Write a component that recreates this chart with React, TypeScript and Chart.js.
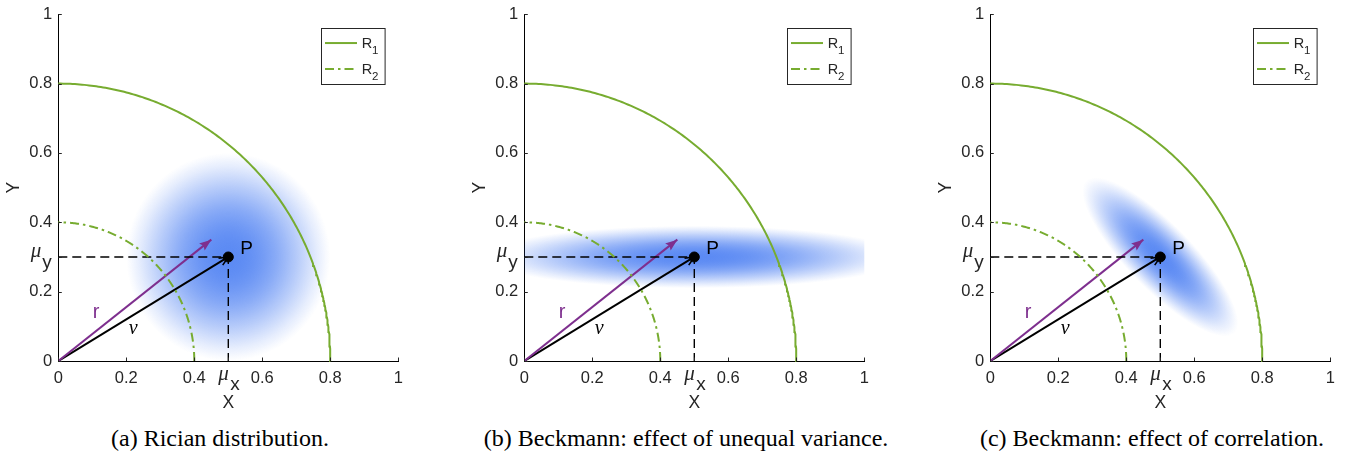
import React, { useEffect, useRef } from 'react';
import { Chart, registerables } from 'chart.js';

Chart.register(...registerables);

// ---------- data ----------
const captions = [
  '(a) Rician distribution.',
  '(b) Beckmann: effect of unequal variance.',
  '(c) Beckmann: effect of correlation.',
];
const xTickValues = [0, 0.2, 0.4, 0.5, 0.6, 0.8, 1];
const xTickLabels = ['0', '0.2', '0.4', '', '0.6', '0.8', '1'];
const yTickValues = [0, 0.2, 0.3, 0.4, 0.6, 0.8, 1];
const yTickLabels = ['0', '0.2', '', '0.4', '0.6', '0.8', '1'];
const circleRadii = [0.8, 0.4]; // R1, R2
const legendSubs = ['1', '2'];
const meanPoint = [0.5, 0.3]; // (mu_x, mu_y) = P
const rTip = [0.45, 0.35]; // tip of purple arrow r
const blobMajor = [0.3, 0.62, 0.31]; // extent of density along main axis
const blobMinor = [0.3, 0.09, 0.095]; // extent along minor axis
const blobAngleDeg = [0, 0, -45];

// ---------- styles ----------
const GREEN = 'rgb(119,172,48)';
const PURPLE = 'rgb(126,47,142)';
const AXIS = '#262626';
const SANS = '"Liberation Sans", Arial, Helvetica, sans-serif';
const SERIF = '"Liberation Serif", "Times New Roman", serif';
const PANEL_W = 466;
const CANVAS_H = 420;

const arcPoints = (r: number) => {
  const pts: { x: number; y: number }[] = [];
  for (let i = 0; i <= 180; i++) {
    const a = (i / 180) * (Math.PI / 2);
    pts.push({ x: r * Math.cos(a), y: r * Math.sin(a) });
  }
  return pts;
};

const labelFor = (vals: number[], labels: string[], v: number) => {
  const i = vals.findIndex((t) => Math.abs(t - v) < 1e-9);
  return i >= 0 ? labels[i] : '';
};

function makeDecor(idx: number) {
  return {
    id: 'decor' + idx,
    beforeDatasetsDraw(chart: any) {
      const { ctx, chartArea, scales } = chart;
      const x = scales.x, y = scales.y;
      const cx = x.getPixelForValue(meanPoint[0]);
      const cy = y.getPixelForValue(meanPoint[1]);
      const ux = x.getPixelForValue(1) - x.getPixelForValue(0);
      const uy = y.getPixelForValue(0) - y.getPixelForValue(1);
      ctx.save();
      ctx.beginPath();
      ctx.rect(chartArea.left, chartArea.top, chartArea.right - chartArea.left, chartArea.bottom - chartArea.top);
      ctx.clip();
      ctx.translate(cx, cy);
      ctx.scale(ux, -uy);
      ctx.rotate((blobAngleDeg[idx] * Math.PI) / 180);
      ctx.scale(blobMajor[idx], blobMinor[idx]);
      const g = ctx.createRadialGradient(0, 0, 0, 0, 0, 1);
      for (let i = 0; i <= 24; i++) {
        const t = i / 24;
        const a = 0.78 * Math.exp(-1.3 * t * t) * (1 - Math.pow(t, 4));
        g.addColorStop(t, `rgba(45,105,240,${Math.max(0, a).toFixed(3)})`);
      }
      ctx.fillStyle = g;
      ctx.beginPath();
      ctx.arc(0, 0, 1, 0, Math.PI * 2);
      ctx.fill();
      ctx.restore();
    },
    afterDatasetsDraw(chart: any) {
      const { ctx, chartArea, scales } = chart;
      const x = scales.x, y = scales.y;
      const L = chartArea.left, T = chartArea.top, B = chartArea.bottom;
      ctx.save();
      // inner tick marks
      ctx.strokeStyle = AXIS;
      ctx.lineWidth = 1;
      ctx.beginPath();
      yTickValues.forEach((v) => {
        const py = Math.round(y.getPixelForValue(v)) + 0.5;
        ctx.moveTo(L, py);
        ctx.lineTo(L + 3.5, py);
      });
      xTickValues.forEach((v) => {
        const px = Math.round(x.getPixelForValue(v)) + 0.5;
        ctx.moveTo(px, B);
        ctx.lineTo(px, B - 3.5);
      });
      ctx.stroke();

      // arrowheads
      const head = (di: number, filled: boolean, color: string) => {
        const meta = chart.getDatasetMeta(di);
        const p0 = meta.data[0], p1 = meta.data[meta.data.length - 1];
        const ang = Math.atan2(p1.y - p0.y, p1.x - p0.x);
        ctx.save();
        ctx.translate(p1.x, p1.y);
        ctx.rotate(ang);
        if (filled) {
          ctx.fillStyle = color;
          ctx.beginPath();
          ctx.moveTo(0, 0);
          ctx.lineTo(-12, -4.5);
          ctx.lineTo(-10, 0);
          ctx.lineTo(-12, 4.5);
          ctx.closePath();
          ctx.fill();
        } else {
          ctx.strokeStyle = color;
          ctx.lineWidth = 1.6;
          ctx.beginPath();
          ctx.moveTo(-9, -4);
          ctx.lineTo(0, 0);
          ctx.lineTo(-9, 4);
          ctx.stroke();
        }
        ctx.restore();
      };
      head(3, true, PURPLE);
      head(4, false, '#000');

      // annotations
      ctx.fillStyle = '#000';
      ctx.textAlign = 'left';
      ctx.textBaseline = 'alphabetic';
      ctx.font = `19px ${SANS}`;
      ctx.fillText('P', x.getPixelForValue(meanPoint[0]) + 12, y.getPixelForValue(meanPoint[1]) - 2.5);
      ctx.fillStyle = PURPLE;
      ctx.textAlign = 'center';
      ctx.font = `20px ${SANS}`;
      ctx.fillText('r', x.getPixelForValue(0.111), y.getPixelForValue(0.125));
      ctx.fillStyle = '#000';
      ctx.font = `italic 20px ${SERIF}`;
      ctx.fillText('ν', x.getPixelForValue(0.22), y.getPixelForValue(0.079));

      // mu labels
      ctx.fillStyle = AXIS;
      ctx.textAlign = 'left';
      const py3 = y.getPixelForValue(meanPoint[1]);
      ctx.font = `italic 21px ${SERIF}`;
      ctx.fillText('μ', L - 27.5, py3);
      ctx.font = `19px ${SANS}`;
      ctx.fillText('y', L - 16, py3 + 11);
      const px5 = x.getPixelForValue(meanPoint[0]);
      ctx.font = `italic 21px ${SERIF}`;
      ctx.fillText('μ', px5 - 10, B + 19);
      ctx.font = `19px ${SANS}`;
      ctx.fillText('x', px5 + 2, B + 29);

      // legend
      const bx = L + 262.4, by = T + 13.8;
      ctx.fillStyle = '#fff';
      ctx.fillRect(bx, by, 63.6, 56);
      ctx.strokeStyle = AXIS;
      ctx.lineWidth = 1;
      ctx.strokeRect(Math.round(bx) + 0.5, Math.round(by) + 0.5, 63.6, 56);
      [0, 1].forEach((k) => {
        const ds = chart.data.datasets[k];
        const ly = T + 28.8 + k * 26;
        ctx.strokeStyle = ds.borderColor;
        ctx.lineWidth = ds.borderWidth;
        ctx.setLineDash(ds.borderDash || []);
        ctx.beginPath();
        ctx.moveTo(L + 266.7, ly);
        ctx.lineTo(L + 298.7, ly);
        ctx.stroke();
        ctx.setLineDash([]);
        ctx.fillStyle = AXIS;
        ctx.font = `14.5px ${SANS}`;
        ctx.fillText('R', L + 303.4, ly + 4.8);
        ctx.font = `11.5px ${SANS}`;
        ctx.fillText(legendSubs[k], L + 313.8, ly + 10.6);
      });
      ctx.restore();
    },
  };
}

function Panel({ idx }: { idx: number }) {
  const ref = useRef<HTMLCanvasElement | null>(null);
  useEffect(() => {
    if (!ref.current) return;
    const tickFont = { family: SANS, size: 16.5, lineHeight: 1 };
    const titleFont = { family: SANS, size: 17.5, lineHeight: 1.2 };
    const chart = new Chart(ref.current, {
      type: 'scatter',
      data: {
        datasets: [
          { label: 'R1', data: arcPoints(circleRadii[0]), borderColor: GREEN, borderWidth: 2, pointRadius: 0, showLine: true, clip: false },
          { label: 'R2', data: arcPoints(circleRadii[1]), borderColor: GREEN, borderWidth: 2, borderDash: [9, 4, 2.5, 4], pointRadius: 0, showLine: true, clip: false },
          { label: 'guide', data: [{ x: 0, y: meanPoint[1] }, { x: meanPoint[0], y: meanPoint[1] }, { x: meanPoint[0], y: 0 }], borderColor: '#000', borderWidth: 1.4, borderDash: [9, 5], pointRadius: 0, showLine: true },
          { label: 'r', data: [{ x: 0, y: 0 }, { x: rTip[0], y: rTip[1] }], borderColor: PURPLE, borderWidth: 2, pointRadius: 0, showLine: true },
          { label: 'nu', data: [{ x: 0, y: 0 }, { x: meanPoint[0], y: meanPoint[1] }], borderColor: '#000', borderWidth: 2, pointRadius: 0, showLine: true },
          { label: 'P', data: [{ x: meanPoint[0], y: meanPoint[1] }], backgroundColor: '#000', borderColor: '#000', pointRadius: 5, showLine: false },
        ] as any,
      },
      options: {
        animation: false,
        responsive: false,
        maintainAspectRatio: false,
        events: [],
        layout: { padding: { left: 0, top: 8.5, right: PANEL_W - 398.3, bottom: 0 } },
        plugins: { legend: { display: false }, tooltip: { enabled: false } },
        scales: {
          x: {
            type: 'linear',
            min: 0,
            max: 1,
            grid: { display: false, drawTicks: false },
            border: { display: true, color: '#000', width: 1 },
            afterBuildTicks: (s: any) => { s.ticks = xTickValues.map((v) => ({ value: v })); },
            afterFit: (s: any) => { s.height = CANVAS_H - 361; },
            ticks: { autoSkip: false, maxRotation: 0, padding: 9.7, color: AXIS, font: tickFont, callback: (v: any) => labelFor(xTickValues, xTickLabels, Number(v)) },
            title: { display: true, text: 'X', color: AXIS, font: titleFont, padding: { top: 0, bottom: 6.5 } },
          },
          y: {
            type: 'linear',
            min: 0,
            max: 1,
            grid: { display: false, drawTicks: false },
            border: { display: true, color: '#000', width: 1 },
            afterBuildTicks: (s: any) => { s.ticks = yTickValues.map((v) => ({ value: v })); },
            afterFit: (s: any) => { s.width = 58.3; },
            ticks: { autoSkip: false, padding: 6, color: AXIS, font: tickFont, callback: (v: any) => labelFor(yTickValues, yTickLabels, Number(v)) },
            title: { display: true, text: 'Y', color: AXIS, font: titleFont, padding: { top: 3.5, bottom: 0 } },
          },
        },
      } as any,
      plugins: [makeDecor(idx)],
    });
    return () => chart.destroy();
  }, [idx]);
  return (
    <canvas
      ref={ref}
      width={PANEL_W}
      height={CANVAS_H}
      style={{ position: 'absolute', left: idx * PANEL_W, top: 0, width: PANEL_W, height: CANVAS_H }}
    />
  );
}

export default function App() {
  return (
    <div style={{ position: 'absolute', left: 0, top: 0, width: 1350, height: 460, overflow: 'hidden', background: '#fff' }}>
      {[0, 1, 2].map((i) => (
        <Panel key={i} idx={i} />
      ))}
      {captions.map((c, i) => (
        <div
          key={'c' + i}
          style={{
            position: 'absolute',
            left: i * PANEL_W + 220 - 233,
            width: 466,
            top: 426,
            textAlign: 'center',
            fontFamily: SERIF,
            fontSize: 24,
            lineHeight: '24px',
            color: '#000',
            whiteSpace: 'nowrap',
          }}
        >
          {c}
        </div>
      ))}
    </div>
  );
}
